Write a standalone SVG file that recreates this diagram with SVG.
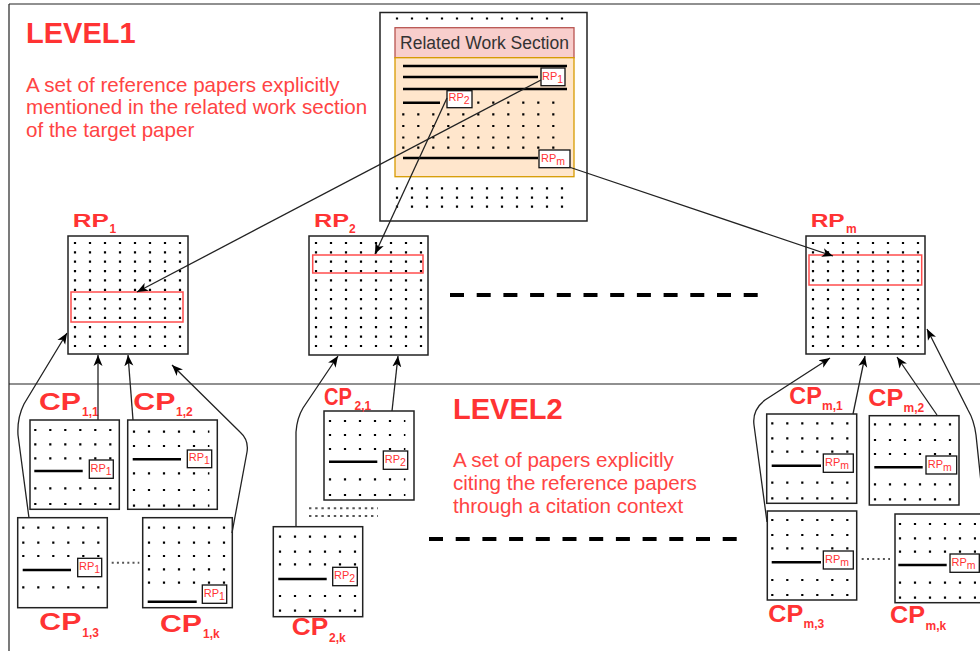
<svg xmlns="http://www.w3.org/2000/svg" xmlns:xlink="http://www.w3.org/1999/xlink" width="980" height="651" viewBox="0 0 980 651">
<style>
.fr{stroke:#222;stroke-width:1.2;fill:none}
.box{fill:#fff;stroke:#222;stroke-width:1.5}
.d{stroke:#000;stroke-width:2.2;stroke-dasharray:2.2 12.8;fill:none}
.tl{stroke:#000;stroke-width:2.6}
.rb{fill:#fff;stroke:#111;stroke-width:1.3}
.rt{font-family:"Liberation Sans",Arial,sans-serif;font-size:11px;fill:#ff3333}
.hl{fill:none;stroke:#ff4d4d;stroke-width:1.5}
.lbl{font-family:"Liberation Sans",Arial,sans-serif;font-weight:bold;font-size:23px;fill:#ff3333}
.rpl{font-family:"Liberation Sans",Arial,sans-serif;font-weight:bold;font-size:19px;fill:#ff3333}
.sub{font-family:"Liberation Sans",Arial,sans-serif;font-weight:bold;font-size:12px;fill:#ff3333}
.lv{font-family:"Liberation Sans",Arial,sans-serif;font-weight:bold;font-size:29px;fill:#ff3333}
.desc{font-family:"Liberation Sans",Arial,sans-serif;font-size:20.6px;fill:#ff4444}
.c{fill:none;stroke:#222;stroke-width:1.3;marker-end:url(#ah)}
.dash{stroke:#000;stroke-width:4;stroke-dasharray:14 12.7}
.gd{stroke:#555;stroke-width:2;fill:none}
</style>
<defs>
<marker id="ah" markerUnits="userSpaceOnUse" markerWidth="12" markerHeight="10" viewBox="0 0 12 10" refX="11" refY="5" orient="auto">
<path d="M0,0.5 L11,5 L0,9.5 L3,5 Z" fill="#000"/>
</marker>
<g id="rpdots">
<line class="d" x1="5.9" x2="113.1" y1="7" y2="7"/>
<line class="d" x1="5.9" x2="113.1" y1="16.4" y2="16.4"/>
<line class="d" x1="5.9" x2="113.1" y1="25.7" y2="25.7"/>
<line class="d" x1="5.9" x2="113.1" y1="35.1" y2="35.1"/>
<line class="d" x1="5.9" x2="113.1" y1="44.4" y2="44.4"/>
<line class="d" x1="5.9" x2="113.1" y1="53.8" y2="53.8"/>
<line class="d" x1="5.9" x2="113.1" y1="63.2" y2="63.2"/>
<line class="d" x1="5.9" x2="113.1" y1="72.5" y2="72.5"/>
<line class="d" x1="5.9" x2="113.1" y1="81.9" y2="81.9"/>
<line class="d" x1="5.9" x2="113.1" y1="91.2" y2="91.2"/>
<line class="d" x1="5.9" x2="113.1" y1="100.6" y2="100.6"/>
<line class="d" x1="5.9" x2="113.1" y1="110" y2="110"/>
</g>
</defs>
<rect x="0" y="0" width="980" height="651" fill="#fff"/>

<!-- frame -->
<g id="frame">
<line class="fr" x1="9" y1="4" x2="980" y2="4"/>
<line class="fr" x1="9" y1="4" x2="9" y2="651"/>
<line class="fr" x1="9" y1="384" x2="980" y2="384"/>
</g>

<!-- level texts -->
<g id="level1">
<text class="lv" x="26" y="43.3">LEVEL1</text>
<text class="desc" x="26" y="91.5">A set of reference papers explicitly</text>
<text class="desc" x="26" y="114">mentioned in the related work section</text>
<text class="desc" x="26" y="136.5">of the target paper</text>
</g>
<g id="level2">
<text class="lv" x="453" y="419.3">LEVEL2</text>
<text class="desc" x="453" y="467.3">A set of papers explicitly</text>
<text class="desc" x="453" y="490">citing the reference papers</text>
<text class="desc" x="453" y="513.3">through a citation context</text>
</g>

<!-- target paper -->
<g id="target">
<rect class="box" x="380" y="12.5" width="207" height="208.5"/>
<line class="d" x1="395.9" x2="563.1" y1="18.5" y2="18.5"/>
<rect x="395" y="27.7" width="179" height="30" fill="#f8cecc" stroke="#b85450" stroke-width="1.3"/>
<text x="484.5" y="49" text-anchor="middle" font-family="'Liberation Sans',Arial,sans-serif" font-size="17.5" fill="#333">Related Work Section</text>
<rect x="395" y="57.7" width="179" height="119" fill="#ffe6cc" stroke="#d79b00" stroke-width="1.3"/>
<line class="tl" x1="403" y1="66" x2="567" y2="66"/>
<line class="tl" x1="403" y1="77" x2="538" y2="77"/>
<line class="tl" x1="403" y1="89" x2="567" y2="89"/>
<line class="tl" x1="403" y1="102.7" x2="440" y2="102.7"/>
<line class="tl" x1="403" y1="158" x2="538" y2="158"/>
<line class="d" x1="477.2" x2="554.4" y1="102.7" y2="102.7"/>
<line class="d" x1="402.2" x2="554.4" y1="114.3" y2="114.3"/>
<line class="d" x1="402.2" x2="554.4" y1="126" y2="126"/>
<line class="d" x1="402.2" x2="554.4" y1="137.5" y2="137.5"/>
<line class="d" x1="402.2" x2="554.4" y1="147.7" y2="147.7"/>
<rect class="rb" x="541" y="68" width="24" height="17.7"/>
<text class="rt" x="542" y="80">RP<tspan dy="3" font-size="10.5">1</tspan></text>
<rect class="rb" x="447" y="90.7" width="25" height="17"/>
<text class="rt" x="448.5" y="101">RP<tspan dy="3" font-size="10.5">2</tspan></text>
<rect class="rb" x="539" y="150" width="31" height="17.7"/>
<text class="rt" x="541" y="161.7">RP<tspan dy="3" font-size="10.5">m</tspan></text>
<line class="d" x1="395.9" x2="563.1" y1="188.3" y2="188.3"/>
<line class="d" x1="395.9" x2="563.1" y1="197.7" y2="197.7"/>
<line class="d" x1="395.9" x2="563.1" y1="206.7" y2="206.7"/>
</g>

<!-- reference papers -->
<g id="rp1">
<rect class="box" x="68" y="236" width="120" height="118"/>
<use xlink:href="#rpdots" x="68" y="236"/>
<rect class="hl" x="71" y="292" width="112" height="30"/>
<text class="rpl" x="72.7" y="226.7" textLength="36" lengthAdjust="spacingAndGlyphs">RP</text>
<text class="sub" x="109.5" y="233">1</text>
</g>
<g id="rp2">
<rect class="box" x="309" y="236" width="119" height="119"/>
<use xlink:href="#rpdots" x="309" y="236"/>
<rect class="hl" x="312.7" y="255" width="110.3" height="18"/>
<text class="rpl" x="314" y="226.7" textLength="35" lengthAdjust="spacingAndGlyphs">RP</text>
<text class="sub" x="349" y="233">2</text>
</g>
<g id="rpm">
<rect class="box" x="806" y="236" width="119" height="118"/>
<use xlink:href="#rpdots" x="806" y="236"/>
<rect class="hl" x="809" y="255" width="112.7" height="30"/>
<text class="rpl" x="810.7" y="226.7" textLength="34" lengthAdjust="spacingAndGlyphs">RP</text>
<text class="sub" x="846" y="233">m</text>
</g>
<line id="dash1" class="dash" x1="450" y1="295" x2="760" y2="295"/>
<line id="dash2" class="dash" x1="429" y1="539" x2="740" y2="539"/>

<!-- citing papers -->
<g id="cp11">
<rect class="box" x="30" y="420" width="89.3" height="89.3"/>
<line class="d" x1="34.2" x2="111.4" y1="430" y2="430"/>
<line class="d" x1="34.2" x2="111.4" y1="444.3" y2="444.3"/>
<line class="d" x1="34.2" x2="111.4" y1="458.3" y2="458.3"/>
<line class="d" x1="34.2" x2="111.4" y1="488.3" y2="488.3"/>
<line class="d" x1="34.2" x2="111.4" y1="504" y2="504"/>
<line class="tl" x1="34.3" y1="471" x2="82.7" y2="471"/>
<rect class="rb" x="89.3" y="460" width="24" height="18.3"/>
<text class="rt" x="90.5" y="471.5">RP<tspan dy="3" font-size="10.5">1</tspan></text>
<text class="lbl" x="39" y="409.7" textLength="42" lengthAdjust="spacingAndGlyphs">CP</text>
<text class="sub" x="82" y="416">1,1</text>
</g>
<g id="cp12">
<rect class="box" x="127.7" y="420" width="89.6" height="89.3"/>
<line class="d" x1="132.9" x2="209.4" y1="431.7" y2="431.7"/>
<line class="d" x1="132.9" x2="209.4" y1="446" y2="446"/>
<line class="d" x1="132.9" x2="209.4" y1="473.3" y2="473.3"/>
<line class="d" x1="132.9" x2="209.4" y1="490" y2="490"/>
<line class="d" x1="132.9" x2="209.4" y1="505.7" y2="505.7"/>
<line class="tl" x1="132.7" y1="459.3" x2="181" y2="459.3"/>
<rect class="rb" x="187.3" y="450" width="24.4" height="17.7"/>
<text class="rt" x="188.7" y="461.2">RP<tspan dy="3" font-size="10.5">1</tspan></text>
<text class="lbl" x="133.3" y="409.5" textLength="42" lengthAdjust="spacingAndGlyphs">CP</text>
<text class="sub" x="176" y="416">1,2</text>
</g>
<g id="cp13">
<rect class="box" x="17.7" y="517.7" width="89.6" height="90"/>
<line class="d" x1="22.2" x2="100.1" y1="527.7" y2="527.7"/>
<line class="d" x1="22.2" x2="100.1" y1="542.7" y2="542.7"/>
<line class="d" x1="22.2" x2="100.1" y1="556" y2="556"/>
<line class="d" x1="22.2" x2="100.1" y1="587.3" y2="587.3"/>
<line class="tl" x1="22.7" y1="570" x2="71" y2="570"/>
<rect class="rb" x="77.7" y="558.3" width="24" height="18.4"/>
<text class="rt" x="79" y="570">RP<tspan dy="3" font-size="10.5">1</tspan></text>
<text class="lbl" x="39.3" y="630" textLength="42" lengthAdjust="spacingAndGlyphs">CP</text>
<text class="sub" x="82.3" y="636.7">1,3</text>
</g>
<line id="dotsl" class="gd" x1="111.7" y1="562.7" x2="139.3" y2="562.7" stroke-dasharray="2 3.2"/>
<g id="cp1k">
<rect class="box" x="142.7" y="517.7" width="89.6" height="90"/>
<line class="d" x1="147.9" x2="226.8" y1="527.7" y2="527.7"/>
<line class="d" x1="147.9" x2="226.8" y1="542.7" y2="542.7"/>
<line class="d" x1="147.9" x2="226.8" y1="556" y2="556"/>
<line class="d" x1="147.9" x2="226.8" y1="569.3" y2="569.3"/>
<line class="d" x1="147.9" x2="226.8" y1="582.7" y2="582.7"/>
<line class="tl" x1="147.7" y1="601.7" x2="196.7" y2="601.7"/>
<rect class="rb" x="202.3" y="585" width="24.4" height="18.3"/>
<text class="rt" x="203.7" y="596.5">RP<tspan dy="3" font-size="10.5">1</tspan></text>
<text class="lbl" x="160" y="631.7" textLength="42" lengthAdjust="spacingAndGlyphs">CP</text>
<text class="sub" x="203" y="638">1,k</text>
</g>

<g id="cp21">
<rect class="box" x="324" y="411" width="90" height="89"/>
<line class="d" x1="328.9" x2="405.4" y1="421" y2="421"/>
<line class="d" x1="328.9" x2="405.4" y1="435" y2="435"/>
<line class="d" x1="328.9" x2="405.4" y1="449" y2="449"/>
<line class="d" x1="328.9" x2="405.4" y1="479.3" y2="479.3"/>
<line class="d" x1="328.9" x2="405.4" y1="495" y2="495"/>
<line class="tl" x1="329" y1="461.7" x2="377.3" y2="461.7"/>
<rect class="rb" x="383.3" y="451" width="24.4" height="18.3"/>
<text class="rt" x="384.7" y="462.5">RP<tspan dy="3" font-size="10.5">2</tspan></text>
<text class="lbl" x="324" y="405" textLength="28" lengthAdjust="spacingAndGlyphs">CP</text>
<text class="sub" x="354.5" y="409.5">2,1</text>
</g>
<g id="dots2">
<line class="gd" x1="309" y1="508.3" x2="378" y2="508.3" stroke-dasharray="2.4 3.8"/>
<line class="gd" x1="309" y1="516" x2="378" y2="516" stroke-dasharray="2.4 3.8"/>
</g>
<g id="cp2k">
<rect class="box" x="273.3" y="526.7" width="89.4" height="90"/>
<line class="d" x1="278.9" x2="356.8" y1="536.7" y2="536.7"/>
<line class="d" x1="278.9" x2="356.8" y1="551.7" y2="551.7"/>
<line class="d" x1="278.9" x2="356.8" y1="564.3" y2="564.3"/>
<line class="d" x1="278.9" x2="356.8" y1="596" y2="596"/>
<line class="d" x1="278.9" x2="356.8" y1="610.7" y2="610.7"/>
<line class="tl" x1="278.3" y1="579" x2="326.7" y2="579"/>
<rect class="rb" x="332.7" y="567.3" width="24.6" height="18.4"/>
<text class="rt" x="334" y="579">RP<tspan dy="3" font-size="10.5">2</tspan></text>
<text class="lbl" x="291.7" y="635" textLength="36.5" lengthAdjust="spacingAndGlyphs">CP</text>
<text class="sub" x="329" y="641.7">2,k</text>
</g>

<g id="cpm1">
<rect class="box" x="766.7" y="414" width="90" height="89.3"/>
<line class="d" x1="771.2" x2="848.8" y1="423.3" y2="423.3"/>
<line class="d" x1="771.2" x2="848.8" y1="438.3" y2="438.3"/>
<line class="d" x1="771.2" x2="848.8" y1="451.7" y2="451.7"/>
<line class="d" x1="771.2" x2="848.8" y1="482.7" y2="482.7"/>
<line class="d" x1="771.2" x2="848.8" y1="498.3" y2="498.3"/>
<line class="tl" x1="771.7" y1="465.7" x2="821" y2="465.7"/>
<rect class="rb" x="823.3" y="454" width="30" height="18.3"/>
<text class="rt" x="825" y="465.5">RP<tspan dy="3" font-size="10.5">m</tspan></text>
<text class="lbl" x="789.3" y="404" textLength="32.5" lengthAdjust="spacingAndGlyphs">CP</text>
<text class="sub" x="822" y="410">m,1</text>
</g>
<g id="cpm2">
<rect class="box" x="869.3" y="415.7" width="89.7" height="89.3"/>
<line class="d" x1="873.9" x2="951.1" y1="424.3" y2="424.3"/>
<line class="d" x1="873.9" x2="951.1" y1="440" y2="440"/>
<line class="d" x1="873.9" x2="951.1" y1="454" y2="454"/>
<line class="d" x1="873.9" x2="951.1" y1="484.3" y2="484.3"/>
<line class="d" x1="873.9" x2="951.1" y1="499.3" y2="499.3"/>
<line class="tl" x1="874.3" y1="467.3" x2="922.7" y2="467.3"/>
<rect class="rb" x="926" y="456" width="30.7" height="18"/>
<text class="rt" x="927.7" y="467.5">RP<tspan dy="3" font-size="10.5">m</tspan></text>
<text class="lbl" x="868.3" y="406" textLength="35" lengthAdjust="spacingAndGlyphs">CP</text>
<text class="sub" x="903.5" y="411.7">m,2</text>
</g>
<g id="cpm3">
<rect class="box" x="767.3" y="511" width="89.4" height="89"/>
<line class="d" x1="771.2" x2="848.8" y1="520" y2="520"/>
<line class="d" x1="771.2" x2="848.8" y1="535" y2="535"/>
<line class="d" x1="771.2" x2="848.8" y1="548.3" y2="548.3"/>
<line class="d" x1="771.2" x2="848.8" y1="580" y2="580"/>
<line class="d" x1="771.2" x2="848.8" y1="595" y2="595"/>
<line class="tl" x1="771.7" y1="562.3" x2="821" y2="562.3"/>
<rect class="rb" x="823.3" y="551" width="30" height="18"/>
<text class="rt" x="825" y="562.5">RP<tspan dy="3" font-size="10.5">m</tspan></text>
<text class="lbl" x="768.3" y="621.7" textLength="35" lengthAdjust="spacingAndGlyphs">CP</text>
<text class="sub" x="803.5" y="628">m,3</text>
</g>
<line id="dotsm" class="gd" x1="861.7" y1="559" x2="890" y2="559" stroke-dasharray="2 3.3"/>
<g id="cpmk">
<rect class="box" x="895" y="514" width="90" height="88.7"/>
<line class="d" x1="898.9" x2="976" y1="524" y2="524"/>
<line class="d" x1="898.9" x2="976" y1="538.3" y2="538.3"/>
<line class="d" x1="898.9" x2="976" y1="551.7" y2="551.7"/>
<line class="d" x1="898.9" x2="976" y1="582.7" y2="582.7"/>
<line class="d" x1="898.9" x2="976" y1="597.7" y2="597.7"/>
<line class="tl" x1="898.3" y1="565" x2="946.7" y2="565"/>
<rect class="rb" x="950" y="554" width="29.3" height="18.3"/>
<text class="rt" x="951.5" y="565.5">RP<tspan dy="3" font-size="10.5">m</tspan></text>
<text class="lbl" x="890" y="623.3" textLength="35" lengthAdjust="spacingAndGlyphs">CP</text>
<text class="sub" x="925.5" y="630">m,k</text>
</g>

<!-- connectors -->
<g id="connectors">
<path class="c" d="M541,80 L137,292"/>
<path class="c" d="M447,98 L375,254"/>
<path class="c" d="M569,167 L833,256"/>
<path class="c" d="M98,420 L98,355"/>
<path class="c" d="M133,420 L128,355"/>
<path class="c" d="M29,518 L18,435 Q17,418 24,404 L67,333"/>
<path class="c" d="M232,533 L247,452 Q249,440 240,432 L172,365"/>
<path class="c" d="M392,411 L398,356"/>
<path class="c" d="M296,527 L296,432 Q297,418 303,408 L338,356"/>
<path class="c" d="M853,414 L865,356"/>
<path class="c" d="M937,415 L897,357"/>
<path class="c" d="M767,522 L754,425 Q752,410 765,400 L830,358"/>
<path class="c" d="M985,520 L976,435 Q974,420 968,410 L927,329"/>
</g>
</svg>
